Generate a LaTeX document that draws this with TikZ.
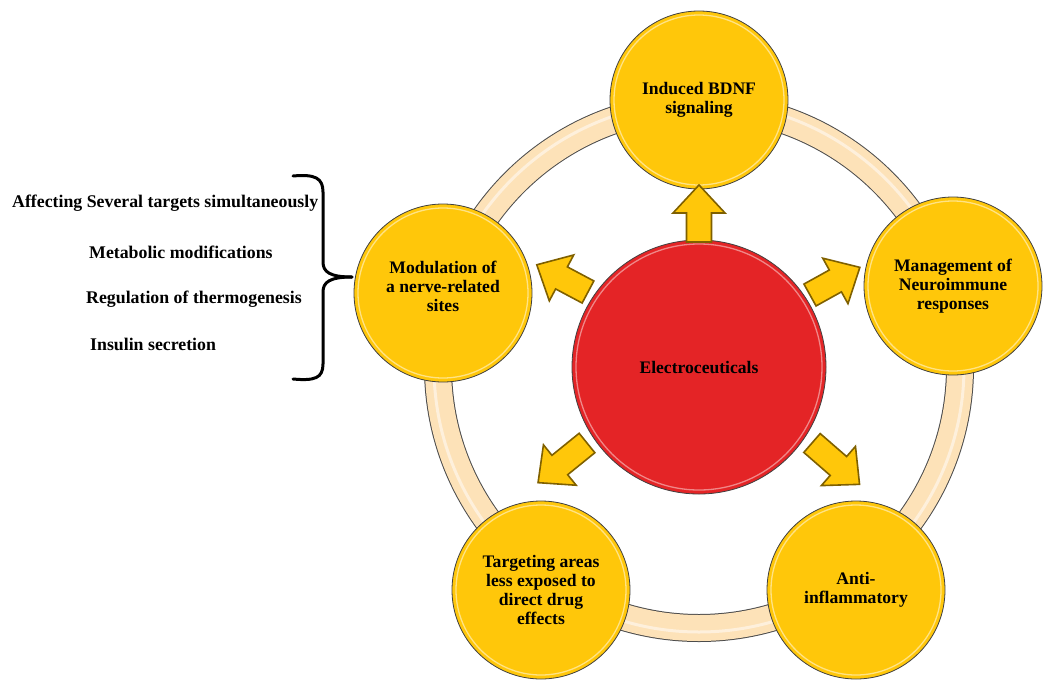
\documentclass[tikz,border=0pt]{standalone}
\usepackage{fontspec}
\setmainfont{Liberation Serif}
\usetikzlibrary{shapes,arrows,positioning,fit,backgrounds}

\definecolor{gold}{RGB}{255,199,10}
\definecolor{hubred}{RGB}{228,36,38}
\definecolor{peach}{RGB}{253,226,184}
\definecolor{arrowedge}{RGB}{127,96,0}

\tikzset{
  ball/.style={circle, draw=black!75, line width=0.8pt, fill=gold, minimum size=178pt, inner sep=0pt, align=center,
    font=\fontsize{17.6}{19}\selectfont\bfseries,
    path picture={\draw[gold!50!white, line width=1.3pt] (path picture bounding box.center) circle[radius=85pt];}},
  hubball/.style={ball, fill=hubred, minimum size=254pt,
    path picture={\draw[hubred!55!white, line width=1.3pt] (path picture bounding box.center) circle[radius=123pt];}},
  pointer/.style={draw=arrowedge, fill=gold, line width=1.6pt, line join=miter},
  note/.style={anchor=west, font=\fontsize{17.8}{19}\selectfont\bfseries, inner sep=0pt},
  brace/.style={line width=3pt, line cap=round}
}

\begin{document}
\begin{tikzpicture}[x=1pt,y=-1pt]
				\useasboundingbox (0,0) rectangle (1053,683);

				% centre and the five outcomes
				\node[hubball] (hub) at (699,367) {Electroceuticals};
				\node[ball] (bdnf) at (699,100) {Induced BDNF\\signaling};
				\node[ball] (neuro) at (953,286) {Management of\\Neuroimmune\\responses};
				\node[ball] (anti) at (856,590) {Anti-\\inflammatory};
				\node[ball] (target) at (541,590) {Targeting areas\\less exposed to\\direct drug\\effects};
				\node[ball, text depth=14pt] (mod) at (443,293) {Modulation of\\a nerve-related\\sites};

				% ring behind the circles
				\begin{scope}[on background layer]
					\draw[black!70, line width=28pt] (hub.center) circle[radius=261];
					\draw[peach, line width=26pt] (hub.center) circle[radius=261];
					\draw[peach!50!white, line width=3pt] (hub.center) circle[radius=265];
				\end{scope}

				% block arrows out of the centre
				\foreach \x/\y/\a/\l in {699/242/90/57, 588/292/152/58, 810/295/29/57, 587/443/219/63, 812/443/319/63}
					\draw[pointer, shift={(\x,\y)}, rotate=\a] (0,-12.5) -- (\l-28,-12.5) -- (\l-28,-26) -- (\l,0) -- (\l-28,26) -- (\l-28,12.5) -- (0,12.5) -- cycle;

				% list on the left
				\node[note] (several) at (12,203) {Affecting Several targets simultaneously};
				\node[note] (metab) at (89,252) {Metabolic modifications};
				\node[note] (thermo) at (86,299) {Regulation of thermogenesis};
				\node[note] (insulin) at (90,344) {Insulin secretion};

				\coordinate (tip) at (352,277);
				\draw[brace] (293,176) .. controls (315,174) and (323,178) .. (323,192) -- (323,262) .. controls (323,272) and (330,277) .. (tip);
				\draw[brace] (tip) .. controls (330,277) and (323,282) .. (323,292) -- (323,364) .. controls (323,378) and (315,381) .. (293,379);
			\end{tikzpicture}
\end{document}
